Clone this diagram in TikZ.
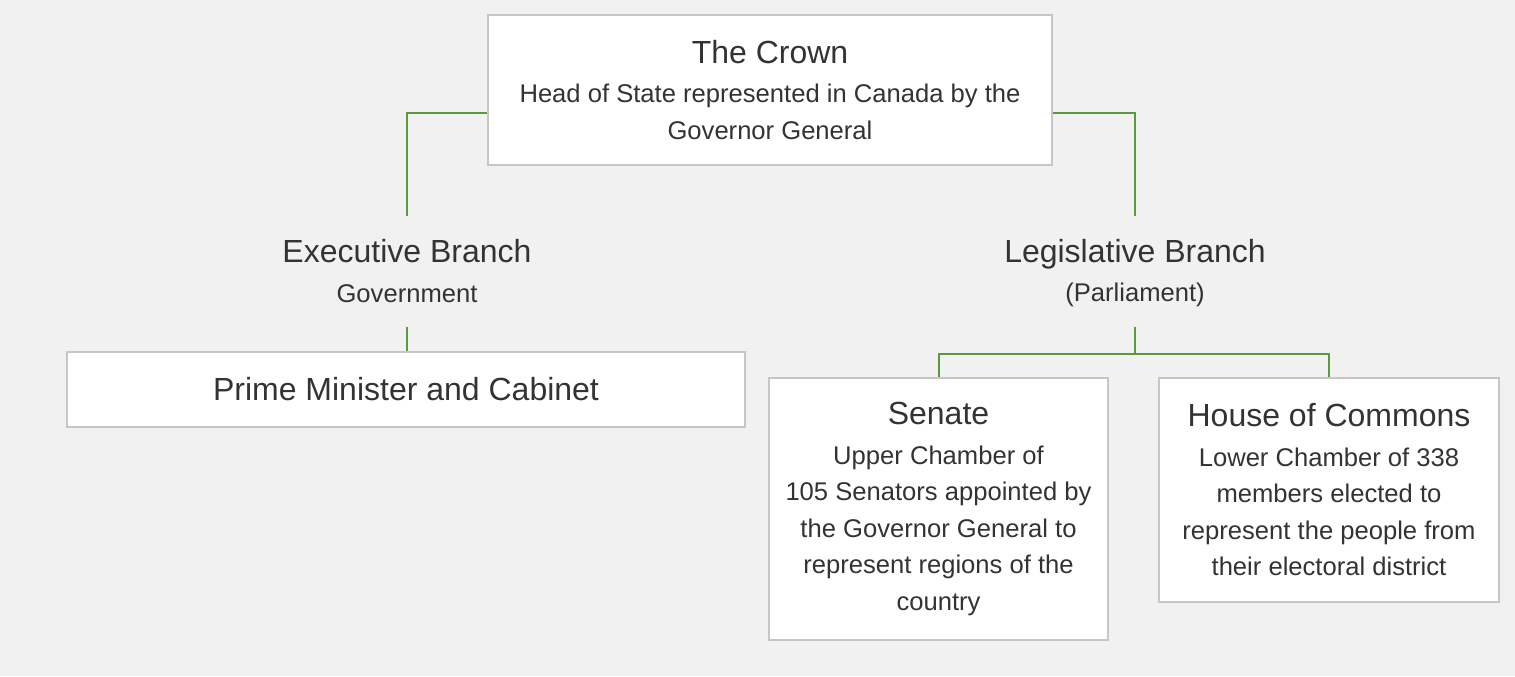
\documentclass[tikz,border=0pt]{standalone}
\usepackage{fontspec}
\setmainfont{Liberation Sans}
\usetikzlibrary{positioning}

\definecolor{paper}{HTML}{F1F1F1}
\definecolor{edge}{HTML}{C6C6C6}
\definecolor{branch}{HTML}{5A9A3C}
\definecolor{ink}{HTML}{333333}
\newcommand{\headfont}{\fontsize{16}{20}\selectfont}
\newcommand{\bodyfont}{\fontsize{12.8}{18.25}\selectfont}
\newcommand{\rowstrut}{\rule[-2pt]{0pt}{15pt}}

\begin{document}
\begin{tikzpicture}[
        x=0.5pt, y=-0.5pt,
        box/.style={draw=edge,fill=white,line width=1pt,align=center,text=ink,font=\bodyfont,inner sep=0pt},
        branchtext/.style={align=center,text=ink,font=\bodyfont,inner sep=0pt,minimum height=55.5pt},
        link/.style={draw=branch,line width=1pt},
      ]

      \fill[paper] (0,0) rectangle (1515,676);
      \useasboundingbox (0,0) rectangle (1515,676);

      \node[box,minimum width=282pt,minimum height=75pt] (crown) at (770,90)
        {{\headfont The Crown}\\[1.5pt]Head of State represented in Canada by the\\Governor General};

      \node[branchtext] (exec) at (407,271.5) {{\headfont Executive Branch}\rowstrut\\[1.5pt]Government\rowstrut};
      \node[branchtext] (legis) at (1135,271.5) {{\headfont Legislative Branch}\rowstrut\\[1.5pt](Parliament)\rowstrut};

      \node[box,minimum width=339pt,minimum height=37.5pt] (pm) at (406,389.5)
        {\headfont Prime Minister and Cabinet};
      \node[box,minimum width=169.5pt,minimum height=131pt] (senate) at (938.5,509)
        {{\headfont Senate}\\[1.5pt]Upper Chamber of\\105 Senators appointed by\\the Governor General to\\represent regions of the\\country};
      \node[box,minimum width=170pt,minimum height=112pt] (commons) at (1329,490)
        {{\headfont House of Commons}\\[1.5pt]Lower Chamber of 338\\members elected to\\represent the people from\\their electoral district};

      \draw[link] (crown.west |- 0,113) -| (exec.north);
      \draw[link] (crown.east |- 0,113) -| (legis.north);
      \draw[link] (exec.south) -- (exec.south |- pm.north);
      \draw[link] (legis.south) -- (legis.south |- 0,354) coordinate (split);
      \draw[link] (senate.north) |- (split) -| (commons.north);

    \end{tikzpicture}
\end{document}
